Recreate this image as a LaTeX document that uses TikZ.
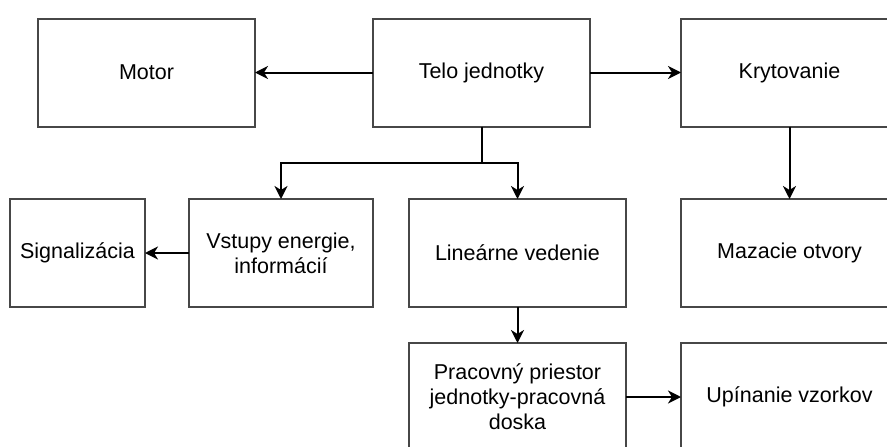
\documentclass[tikz,border=0pt]{standalone}
\usepackage{fontspec}
\setmainfont{Liberation Sans}
\usetikzlibrary{arrows.meta}
\begin{document}
\begin{tikzpicture}[x=1pt,y=-1pt,
  blk/.style={draw=black!72,line width=2pt,fill=white,minimum height=108pt,
    inner sep=0pt,outer sep=0pt,align=center,font=\fontsize{21.5}{25}\selectfont},
  conn/.style={draw=black,line width=2pt,-{Stealth[length=13pt,width=13pt,inset=4pt]}}]
\useasboundingbox (0,0) rectangle (887,447);
\clip (0,0) rectangle (887,447);
\node[blk,minimum width=217pt] (motor) at (146.5,72.5) {Motor};
\node[blk,minimum width=217pt] (telo) at (481.5,72.5) {Telo jednotky};
\node[blk,minimum width=217pt] (kryt) at (789.5,72.5) {Krytovanie};
\node[blk,minimum width=135pt] (sig) at (77.5,253) {Signalizácia};
\node[blk,minimum width=184pt] (vst) at (281,253) {Vstupy energie,\\informácií};
\node[blk,minimum width=217pt] (lin) at (517.5,253) {Lineárne vedenie};
\node[blk,minimum width=217pt] (maz) at (789.5,253) {Mazacie otvory};
\node[blk,minimum width=217pt] (prac) at (517.5,397) {Pracovný priestor\\jednotky-pracovná\\doska};
\node[blk,minimum width=217pt] (upin) at (789.5,397) {Upínanie vzorkov};
\coordinate (br) at (481.5,163);
\draw[conn] (telo.west) -- (motor.east);
\draw[conn] (telo.east) -- (kryt.west);
\draw[conn] (telo.south) -- (br) -| (vst.north);
\draw[conn] (br) -| (lin.north);
\draw[conn] (kryt.south) -- (maz.north);
\draw[conn] (vst.west) -- (sig.east);
\draw[conn] (lin.south) -- (prac.north);
\draw[conn] (prac.east) -- (upin.west);
\end{tikzpicture}
\end{document}
